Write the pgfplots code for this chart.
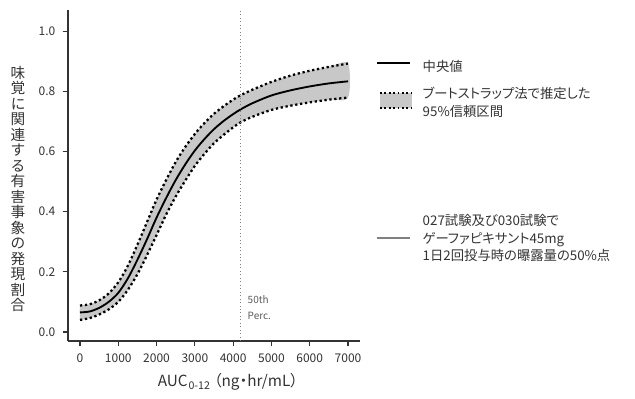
\documentclass[border=0pt]{standalone}
\usepackage{pgfplots}
\pgfplotsset{compat=1.18}
\usepackage{fontspec}
\setmainfont{Noto Sans CJK JP}[RawFeature=+palt]
\definecolor{txt}{HTML}{333333}
\definecolor{band}{HTML}{C8C8C8}
\pgfplotstableread{
x med up lo
0 0.065 0.088 0.040
250 0.068 0.092 0.046
500 0.080 0.105 0.058
750 0.100 0.128 0.075
1000 0.130 0.165 0.100
1250 0.178 0.220 0.140
1500 0.240 0.290 0.192
1750 0.308 0.365 0.255
2000 0.380 0.440 0.322
2250 0.445 0.505 0.390
2500 0.505 0.565 0.450
2750 0.557 0.615 0.503
3000 0.603 0.658 0.552
3250 0.641 0.694 0.592
3500 0.674 0.725 0.627
3750 0.701 0.750 0.655
4000 0.724 0.772 0.680
4200 0.740 0.787 0.697
4500 0.760 0.805 0.715
5000 0.786 0.831 0.738
5500 0.803 0.852 0.752
6000 0.816 0.868 0.763
6500 0.826 0.881 0.772
7000 0.833 0.892 0.779
}\curve
\pgfplotstableread{
x y
0 0.088
250 0.092
500 0.105
750 0.128
1000 0.165
1250 0.220
1500 0.290
1750 0.365
2000 0.440
2250 0.505
2500 0.565
2750 0.615
3000 0.658
3250 0.694
3500 0.725
3750 0.750
4000 0.772
4200 0.787
4500 0.805
5000 0.831
5500 0.852
6000 0.868
6500 0.881
7000 0.892
7000 0.779
6500 0.772
6000 0.763
5500 0.752
5000 0.738
4500 0.715
4200 0.697
4000 0.680
3750 0.655
3500 0.627
3250 0.592
3000 0.552
2750 0.503
2500 0.450
2250 0.390
2000 0.322
1750 0.255
1500 0.192
1250 0.140
1000 0.100
750 0.075
500 0.058
250 0.046
0 0.040
}\bandtab
\begin{document}
\begin{tikzpicture}
\path (0,0) rectangle (476.25pt,299.25pt);
\begin{axis}[
  at={(51pt,43.5pt)}, anchor=south west,
  scale only axis, width=219pt, height=248.25pt,
  xmin=-313, xmax=7313, ymin=-0.03, ymax=1.07,
  axis x line*=bottom, axis y line*=left,
  axis line style={line width=1.1pt, color=black!80},
  xtick={0,1000,...,7000}, ytick={0,0.2,...,1.0},
  y tick label style={/pgf/number format/fixed, /pgf/number format/fixed zerofill, /pgf/number format/precision=1, xshift=-2pt},
  /pgf/number format/assume math mode=true,
  /pgf/number format/1000 sep={},
  tick style={color=black!80, line width=0.8pt},
  tick align=outside, major tick length=4pt,
  ticklabel style={font=\fontsize{9}{10}\selectfont, color=txt},
  x tick label style={yshift=-2pt},
  clip=false,
]
\addplot[fill=band, draw=none, smooth] table[x=x,y=y] {\bandtab} -- cycle;
\addplot[black, line width=1.7pt, dotted, smooth] table[x=x,y=up] {\curve};
\addplot[black, line width=1.7pt, dotted, smooth] table[x=x,y=lo] {\curve};
\addplot[black, line width=1.4pt, smooth] table[x=x,y=med] {\curve};
\addplot[gray, dotted, line width=0.6pt] coordinates {(4200,-0.03) (4200,1.07)};
\end{axis}
\begin{scope}[x=0.75pt, y=-0.75pt, shift={(0,299.25pt)}]
  \node[color=txt, font=\fontsize{11}{11.6}\selectfont, align=center, inner sep=0pt] at (18,189) {味\\覚\\に\\関\\連\\す\\る\\有\\害\\事\\象\\の\\発\\現\\割\\合};
  \node[color=txt, font=\fontsize{11.5}{13}\selectfont] at (228,382) {AUC\kern0.6pt\raisebox{-2.5pt}{\fontsize{8}{9}\selectfont 0-12}\kern3pt（ng・hr/mL）};
  \node[color=txt!80, font=\fontsize{7.5}{9}\selectfont, anchor=west] at (243,300) {50th};
  \node[color=txt!80, font=\fontsize{7.5}{9}\selectfont, anchor=west] at (243,316) {Perc.};
  \draw[black, line width=2.2pt] (377,63) -- (410,63);
  \node[anchor=west, color=txt, font=\fontsize{10}{13}\selectfont] at (418,66) {中央値};
  \fill[band] (380,93) rectangle (412,108);
  \draw[black, dotted, line width=1.3pt] (380,93) -- (412,93);
  \draw[black, dotted, line width=1.3pt] (380,108) -- (412,108);
  \node[anchor=west, color=txt, font=\fontsize{10}{13}\selectfont, align=left] at (418,102.5) {ブートストラップ法で推定した\\95\%信頼区間};
  \draw[gray, line width=0.9pt] (377,238) -- (410,238);
  \node[anchor=west, color=txt, font=\fontsize{10}{13}\selectfont, align=left] at (418,238) {027試験及び030試験で\\ゲーファピキサント45mg\\1日2回投与時の曝露量の50\%点};
\end{scope}
\end{tikzpicture}
\end{document}
